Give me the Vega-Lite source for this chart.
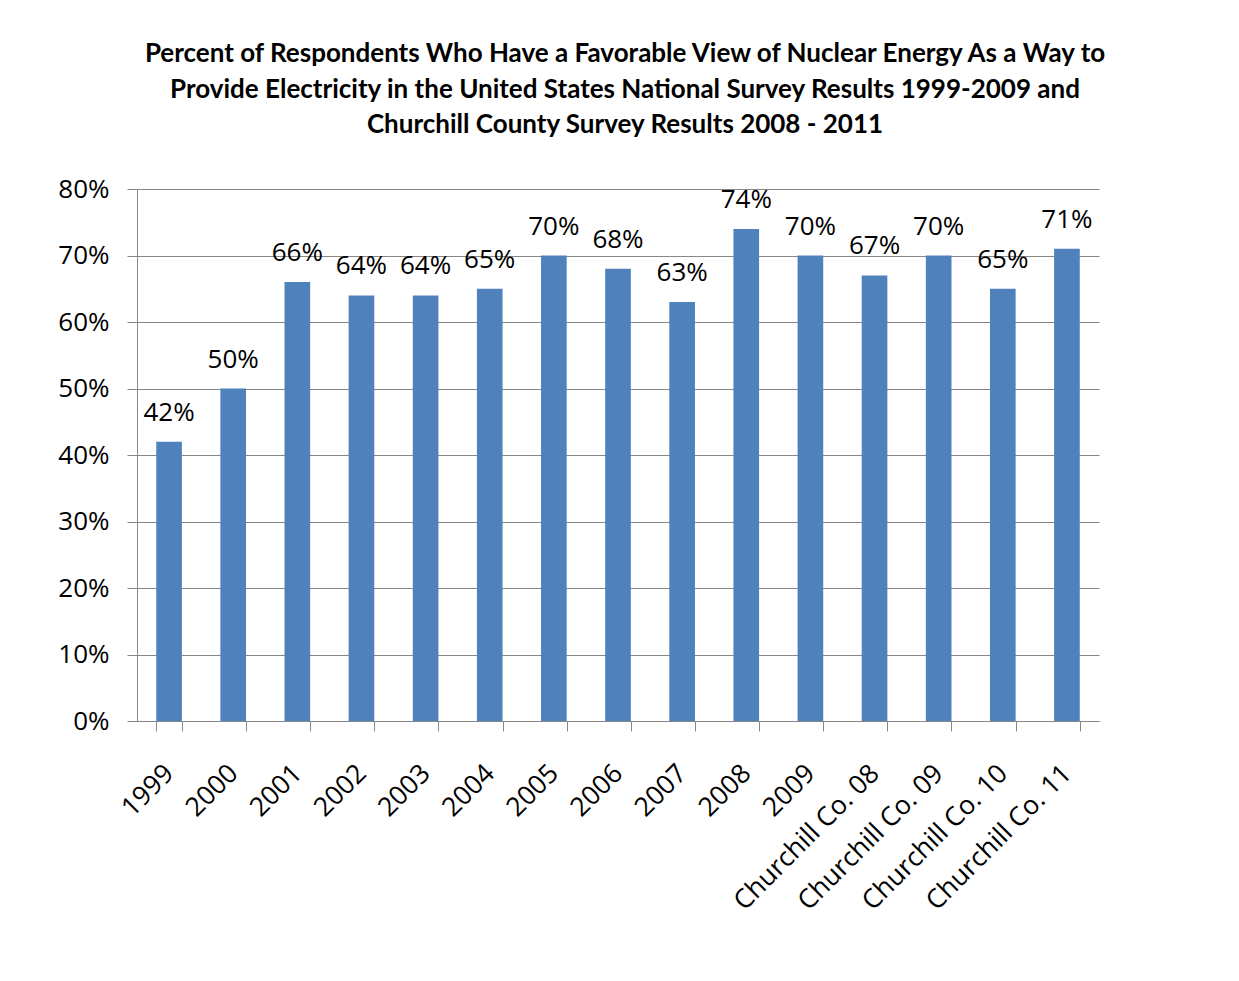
{
  "$schema": "https://vega.github.io/schema/vega-lite/v6.json",
  "width": 962,
  "height": 532,
  "autosize": {"type": "none"},
  "padding": {"left": 137, "top": 189, "right": 140, "bottom": 260},
  "background": "white",
  "title": {
    "text": [
      "Percent of Respondents Who Have a Favorable View of Nuclear Energy As a Way to",
      "Provide Electricity in the United States National Survey Results 1999-2009 and",
      "Churchill County Survey Results 2008 - 2011"
    ],
    "font": "Lato",
    "fontSize": 26,
    "fontWeight": "bold",
    "color": "#000000",
    "lineHeight": 35.5,
    "anchor": "middle",
    "frame": "group",
    "dx": 7,
    "offset": 38
  },
  "data": {
    "values": [
      {"label": "1999", "pct": 0.42},
      {"label": "2000", "pct": 0.50},
      {"label": "2001", "pct": 0.66},
      {"label": "2002", "pct": 0.64},
      {"label": "2003", "pct": 0.64},
      {"label": "2004", "pct": 0.65},
      {"label": "2005", "pct": 0.70},
      {"label": "2006", "pct": 0.68},
      {"label": "2007", "pct": 0.63},
      {"label": "2008", "pct": 0.74},
      {"label": "2009", "pct": 0.70},
      {"label": "Churchill Co. 08", "pct": 0.67},
      {"label": "Churchill Co. 09", "pct": 0.70},
      {"label": "Churchill Co. 10", "pct": 0.65},
      {"label": "Churchill Co. 11", "pct": 0.71}
    ]
  },
  "encoding": {
    "x": {
      "field": "label",
      "type": "nominal",
      "sort": null,
      "scale": {"paddingInner": 0.6, "paddingOuter": 0.3},
      "axis": {
        "title": null,
        "labelAngle": -45,
        "labelAlign": "right",
        "labelBaseline": "middle",
        "labelPadding": 38,
        "labelFont": "Open Sans",
        "labelFontSize": 26.5,
        "labelColor": "#000000",
        "labelLimit": 400,
        "tickBand": "extent",
        "tickSize": 10,
        "tickColor": "#878787",
        "domainColor": "#878787",
        "grid": false
      }
    },
    "y": {
      "field": "pct",
      "type": "quantitative",
      "scale": {"domain": [0, 0.8], "nice": false},
      "axis": {
        "title": null,
        "values": [0, 0.1, 0.2, 0.3, 0.4, 0.5, 0.6, 0.7, 0.8],
        "format": ".0%",
        "labelFont": "Open Sans",
        "labelFontSize": 26,
        "labelColor": "#000000",
        "labelPadding": 18,
        "tickSize": 10,
        "tickColor": "#878787",
        "domainColor": "#878787",
        "gridColor": "#878787",
        "gridOpacity": 1
      }
    }
  },
  "layer": [
    {"mark": {"type": "bar", "color": "#4F81BD"}},
    {
      "mark": {
        "type": "text",
        "baseline": "alphabetic",
        "dy": -21,
        "font": "Open Sans",
        "fontSize": 26,
        "color": "#000000"
      },
      "encoding": {"text": {"field": "pct", "type": "quantitative", "format": ".0%"}}
    }
  ],
  "config": {"view": {"stroke": null}}
}
